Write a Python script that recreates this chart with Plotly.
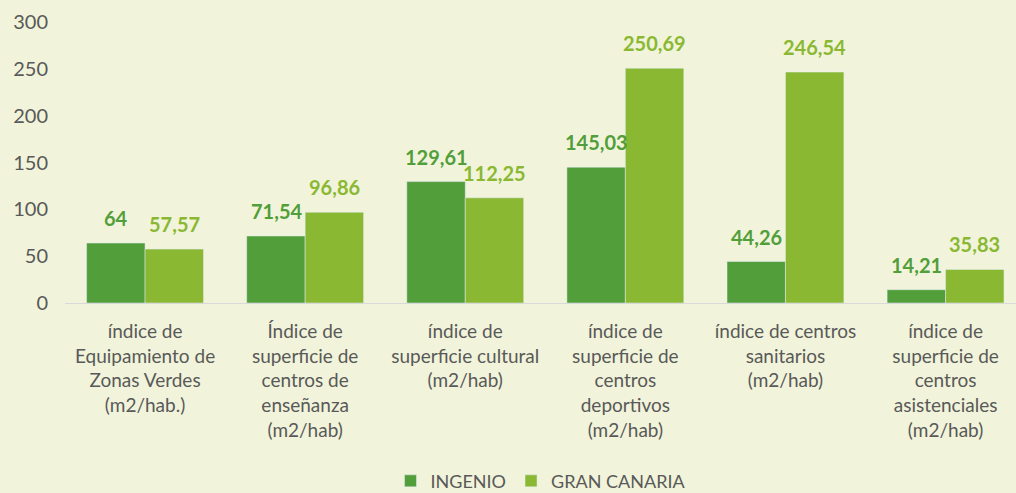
import plotly.graph_objects as go

categories = [
    "índice de<br>Equipamiento de<br>Zonas Verdes<br>(m2/hab.)",
    "Índice de<br>superficie de<br>centros de<br>enseñanza<br>(m2/hab)",
    "índice de<br>superficie cultural<br>(m2/hab)",
    "índice de<br>superficie de<br>centros<br>deportivos<br>(m2/hab)",
    "índice de centros<br>sanitarios<br>(m2/hab)",
    "índice de<br>superficie de<br>centros<br>asistenciales<br>(m2/hab)",
]
ingenio = [64, 71.54, 129.61, 145.03, 44.26, 14.21]
gran_canaria = [57.57, 96.86, 112.25, 250.69, 246.54, 35.83]
y_ticks = [0, 50, 100, 150, 200, 250, 300]

DARK = "#519E3A"
LIGHT = "#8AB833"
BG = "#F1F4DA"
GRAY = "#595959"
FONT = "Lato, Carlito, Calibri, sans-serif"


def fmt(v):
    return f"{v:g}".replace(".", ",")


fig = go.Figure()
fig.add_trace(go.Bar(name="INGENIO", x=categories, y=ingenio, marker_color=DARK))
fig.add_trace(go.Bar(name="GRAN CANARIA", x=categories, y=gran_canaria, marker_color=LIGHT))

annotations = []
for series, shift, col in [(ingenio, -29, DARK), (gran_canaria, 29, LIGHT)]:
    for c, v in zip(categories, series):
        annotations.append(dict(
            x=c, y=v, xref="x", yref="y", text=fmt(v), showarrow=False,
            xshift=shift, yshift=11, yanchor="bottom",
            font=dict(family=FONT, size=20, color=col, weight="bold"),
        ))

fig.update_layout(
    barmode="group",
    bargap=0.27,
    bargroupgap=0,
    width=1016,
    height=493,
    paper_bgcolor=BG,
    plot_bgcolor=BG,
    margin=dict(l=65, r=0, t=22, b=190),
    font=dict(family=FONT, color=GRAY, size=19),
    annotations=annotations,
    legend=dict(
        orientation="h", x=0.5, xanchor="center", y=0.024, yanchor="middle",
        yref="container", font=dict(size=18, color=GRAY), traceorder="normal",
        itemwidth=30,
    ),
    xaxis=dict(
        range=[-0.5, 5.44], showline=True, linecolor="#D9D9D9", linewidth=1,
        ticks="", tickfont=dict(size=19, color=GRAY), tickangle=0,
        ticklabelstandoff=11,
    ),
    yaxis=dict(
        range=[0, 300], tickvals=y_ticks, showgrid=False, zeroline=False,
        showline=False, tickfont=dict(size=20, color=GRAY), ticklabelstandoff=16,
    ),
)

fig.write_html(
    "out.html",
    config={"displayModeBar": False},
    post_script="document.body.style.margin='0';document.body.style.background='" + BG + "';",
)
